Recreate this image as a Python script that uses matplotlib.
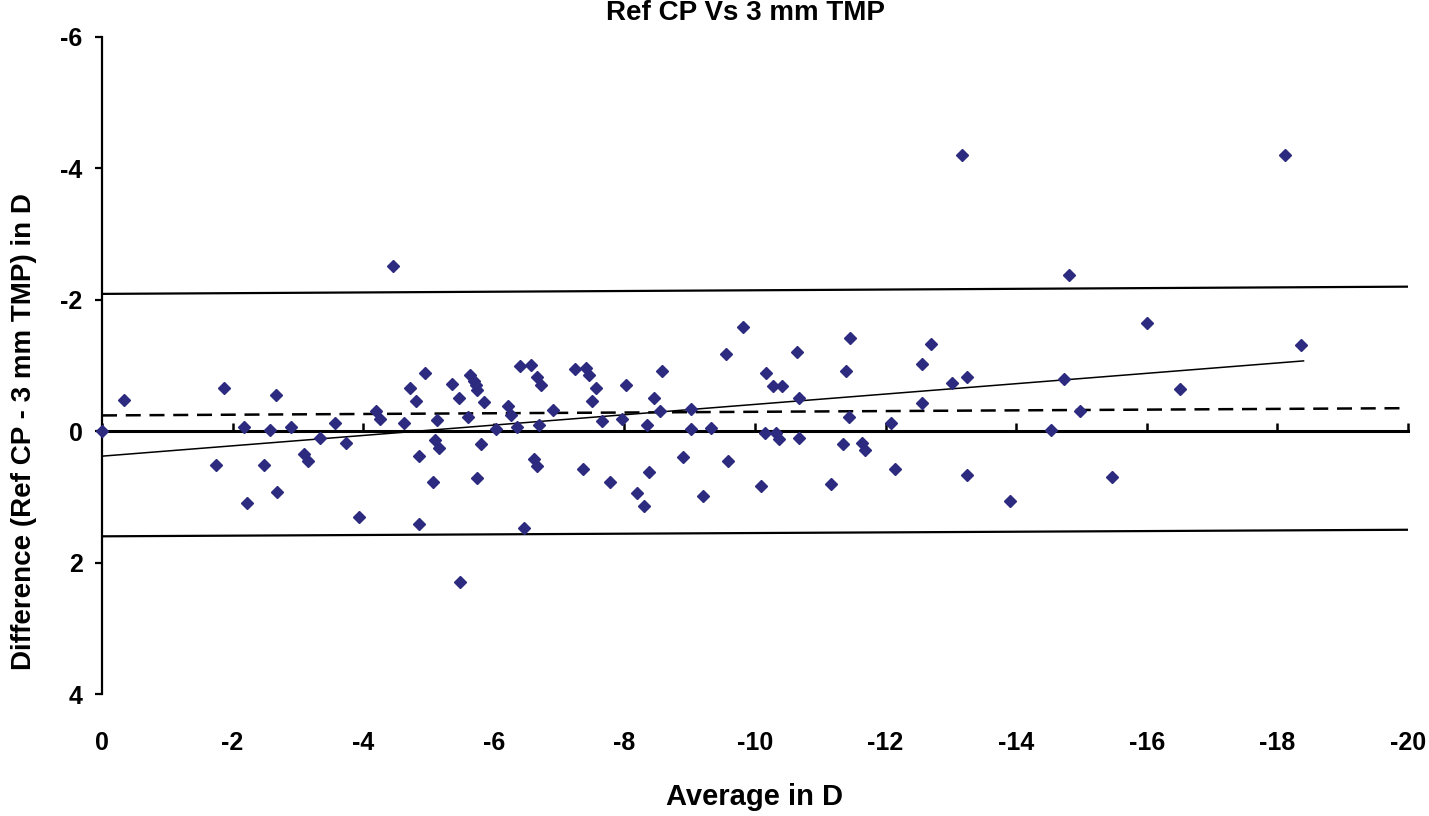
import matplotlib
matplotlib.use("Agg")
import matplotlib.pyplot as plt
import numpy as np

# Bland-Altman data (average, difference), both in D
avg = [0.0, -0.34, -1.87, -2.66, -2.18, -2.57, -2.90, -3.34, -3.73, -3.57,
       -1.74, -2.48, -3.10, -3.15, -2.22, -2.68, -3.94, -4.20, -4.25, -4.63,
       -4.71, -4.81, -4.86, -4.86, -4.94,
       -5.13, -5.10, -5.16, -5.07, -5.36, -5.47, -5.64, -5.69, -5.72, -5.75,
       -5.85, -5.61, -5.81, -5.74, -5.49, -6.21, -6.27, -6.04, -6.36, -6.40,
       -6.57, -6.66, -6.72, -6.69, -6.91, -6.61, -6.66, -6.46, -7.24, -7.41,
       -7.46, -7.56, -7.50, -7.65, -7.36, -7.78, -8.03, -7.97, -8.34, -8.45,
       -8.57, -8.55, -8.37, -8.19, -8.30, -8.90, -9.02, -9.02, -9.33, -9.20,
       -9.58, -9.56,
       -9.82, -10.64, -11.45, -10.17, -10.27, -10.42, -10.67, -11.39, -11.44,
       -10.16, -10.32, -10.36, -10.67, -10.09, -11.17, -11.34, -11.64, -11.68,
       -12.09, -12.14, -12.55, -12.70, -12.55, -13.01, -13.25, -13.25, -13.90,
       -14.54, -14.73,
       -16.01, -18.36, -16.51, -14.98, -15.47,
       -4.46, -13.17, -14.81, -18.11]
diff = [0.0, -0.47, -0.66, -0.55, -0.07, -0.02, -0.06, 0.11, 0.18, -0.13,
        0.51, 0.52, 0.35, 0.45, 1.09, 0.93, 1.30, -0.31, -0.19, -0.13,
        -0.66, -0.46, 0.37, 1.42, -0.89,
        -0.17, 0.13, 0.25, 0.78, -0.72, -0.51, -0.85, -0.77, -0.70, -0.63,
        -0.45, -0.22, 0.19, 0.71, 2.30, -0.38, -0.25, -0.03, -0.07, -1.00,
        -1.01, -0.82, -0.71, -0.09, -0.33, 0.42, 0.53, 1.48, -0.95, -0.96,
        -0.86, -0.66, -0.46, -0.16, 0.58, 0.77, -0.70, -0.18, -0.09, -0.51,
        -0.92, -0.31, 0.62, 0.94, 1.14, 0.39, -0.34, -0.03, -0.05, 0.98,
        0.45, -1.17,
        -1.59, -1.21, -1.42, -0.89, -0.69, -0.69, -0.51, -0.92, -0.21,
        0.03, 0.02, 0.12, 0.11, 0.84, 0.80, 0.19, 0.18, 0.29,
        -0.12, 0.58, -1.02, -1.33, -0.43, -0.73, -0.82, 0.67, 1.07,
        -0.02, -0.80,
        -1.64, -1.31, -0.64, -0.30, 0.70,
        -2.51, -4.20, -2.38, -4.21]

# reference lines as drawn (start/end)
line_x = [0, -20]
upper_loa = [-2.09, -2.20]
lower_loa = [1.60, 1.50]
mean_diff = [-0.24, -0.35]
reg_x = [0, -18.4]
reg_y = [0.38, -1.07]

x_ticks = np.arange(0, -21, -2)
y_ticks = np.arange(-6, 5, 2)

font = "Liberation Sans"

fig = plt.figure(figsize=(14.29, 8.16), dpi=100)
ax = fig.add_axes([102 / 1429, 1 - 694 / 816, 1306 / 1429, 657 / 816])

ax.plot(line_x, upper_loa, color="black", lw=1.6)
ax.plot(line_x, lower_loa, color="black", lw=1.6)
ax.plot([0, -19.9], mean_diff, color="black", lw=1.8, dashes=(6, 3.5))
ax.plot(reg_x, reg_y, color="black", lw=1.1)
ax.plot(avg, diff, "D", color="#2D2B80", ms=5.8, mec="#2D2B80", zorder=5,
        clip_on=False)

ax.set_xlim(0, -20)
ax.set_ylim(4, -6)

for s in ["top", "right"]:
    ax.spines[s].set_visible(False)
ax.spines["left"].set_linewidth(1.6)
ax.spines["bottom"].set_position(("data", 0))
ax.spines["bottom"].set_linewidth(2.2)

ax.set_xticks(x_ticks)
ax.set_yticks(y_ticks)
ax.set_xticklabels([str(v) for v in x_ticks])
ax.set_yticklabels([str(v) for v in y_ticks])
ax.tick_params(axis="x", direction="in", length=6, width=1.8, pad=216)
ax.tick_params(axis="y", direction="out", length=5, width=1.6, pad=9)
for lab in ax.get_xticklabels() + ax.get_yticklabels():
    lab.set_fontfamily(font)
    lab.set_fontweight("bold")
    lab.set_fontsize(18)

fig.text(745 / 1429, 1 - 13 / 816, "Ref CP Vs 3 mm TMP", ha="center",
         va="center", fontsize=20, fontweight="bold", family=font)
fig.text(755 / 1429, 1 - 797 / 816, "Average in D", ha="center",
         va="center", fontsize=21, fontweight="bold", family=font)
fig.text(24 / 1429, 1 - 432 / 816, "Difference (Ref CP - 3 mm TMP) in D",
         ha="center", va="center", rotation=90, fontsize=20,
         fontweight="bold", family=font)

fig.savefig("out.png", dpi=100)
